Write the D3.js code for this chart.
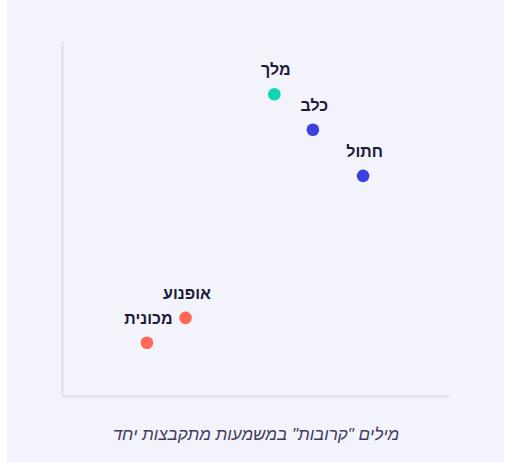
<!DOCTYPE html>
<html lang="he">
<head>
<meta charset="utf-8">
<script src="https://cdn.jsdelivr.net/npm/d3@7"></script>
<style>
  html, body { margin: 0; padding: 0; background: #ffffff; }
  svg { display: block; }
</style>
</head>
<body>
<svg id="chart" width="514" height="462"></svg>
<script>
const words = ["מלך", "כלב", "חתול", "אופנוע", "מכונית"];
const xValues = [5.5, 6.5, 7.8, 3.2, 2.2];
const yValues = [8.5, 7.5, 6.2, 2.2, 1.5];
const groups = ["royal", "animal", "animal", "vehicle", "vehicle"];
const groupNames = ["royal", "animal", "vehicle"];
const groupColors = ["#10d5b7", "#3b40df", "#ff6756"];
const caption = "מילים \"קרובות\" במשמעות מתקבצות יחד";

const svg = d3.select("#chart");
const W = 514, H = 462;

svg.append("rect").attr("x", 7).attr("y", 0).attr("width", 497).attr("height", H).attr("fill", "#f3f3fc");

const x = d3.scaleLinear().domain([0, 10]).range([62, 448]);
const y = d3.scaleLinear().domain([0, 10]).range([396, 41]);
const color = d3.scaleOrdinal().domain(groupNames).range(groupColors);

const axisColor = "#dcdff1";
const xAxis = d3.axisBottom(x).ticks(0).tickSize(0).tickFormat("");
const yAxis = d3.axisLeft(y).ticks(0).tickSize(0).tickFormat("");
const gx = svg.append("g").attr("transform", `translate(0,${y(0)})`).call(xAxis);
const gy = svg.append("g").attr("transform", `translate(${x(0)},0)`).call(yAxis);
[gx, gy].forEach(g => g.select(".domain").attr("stroke", axisColor).attr("stroke-width", 2));

const data = words.map((w, i) => ({ w, x: xValues[i], y: yValues[i], g: groups[i] }));

svg.append("g").selectAll("circle").data(data).join("circle")
  .attr("cx", d => x(d.x)).attr("cy", d => y(d.y)).attr("r", 6.3)
  .attr("fill", d => color(d.g));

svg.append("g").selectAll("text").data(data).join("text")
  .attr("x", d => x(d.x) + 1.5).attr("y", d => y(d.y) - 19)
  .attr("text-anchor", "middle")
  .attr("direction", "rtl")
  .attr("font-family", "'Liberation Sans', Arial, sans-serif")
  .attr("font-weight", "bold").attr("font-size", 16)
  .attr("fill", "#1b1b3a")
  .text(d => d.w);

svg.append("text")
  .attr("x", 256).attr("y", 440)
  .attr("text-anchor", "middle")
  .attr("font-family", "'Liberation Sans', Arial, sans-serif")
  .attr("font-style", "italic").attr("font-size", 17)
  .attr("fill", "#3d3d5c")
  .text(caption);
</script>
</body>
</html>
